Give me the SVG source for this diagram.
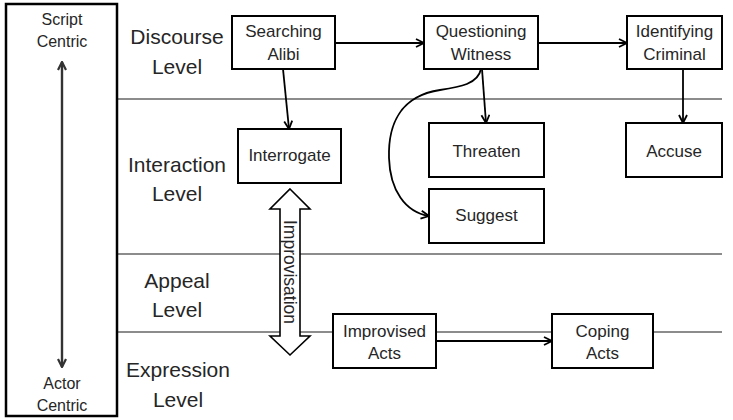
<svg xmlns="http://www.w3.org/2000/svg" width="733" height="420" viewBox="0 0 733 420">
<defs>
<style>
.box{fill:#fff;stroke:#000;stroke-width:2}
.lvl{stroke:#666;stroke-width:1.3;fill:none}
.t{font-family:"Liberation Sans",Arial,sans-serif;font-size:17px;fill:#262626;text-anchor:middle}
.lt{font-family:"Liberation Sans",Arial,sans-serif;font-size:21px;fill:#262626;text-anchor:middle}
.st{font-family:"Liberation Sans",Arial,sans-serif;font-size:16px;fill:#262626;text-anchor:middle}
.c{stroke:#000;stroke-width:1.8;fill:none}
</style>
<marker id="ah" viewBox="0 0 10 10" refX="9" refY="5" markerWidth="10" markerHeight="10" markerUnits="userSpaceOnUse" orient="auto-start-reverse">
<path d="M1,1 L9,5 L1,9" fill="none" stroke="#000" stroke-width="1.8"/>
</marker>
<marker id="ah2" viewBox="0 0 10 10" refX="9" refY="5" markerWidth="10" markerHeight="10" markerUnits="userSpaceOnUse" orient="auto-start-reverse">
<path d="M1,1 L9,5 L1,9" fill="none" stroke="#333" stroke-width="2.2"/>
</marker>
</defs>
<rect width="733" height="420" fill="#fff"/>
<g id="levels">
<line class="lvl" x1="118" y1="99" x2="722" y2="99"/>
<line class="lvl" x1="118" y1="254" x2="722" y2="254"/>
<line class="lvl" x1="118" y1="332" x2="722" y2="332"/>
<text class="lt" x="177" y="44">Discourse</text>
<text class="lt" x="177" y="74">Level</text>
<text class="lt" x="177" y="172">Interaction</text>
<text class="lt" x="177" y="201">Level</text>
<text class="lt" x="177" y="288">Appeal</text>
<text class="lt" x="177" y="317">Level</text>
<text class="lt" x="178" y="377">Expression</text>
<text class="lt" x="178" y="407">Level</text>
</g>
<g id="axis">
<rect x="6" y="4" width="111" height="412" fill="none" stroke="#000" stroke-width="2.5"/>
<text class="st" x="62" y="25">Script</text>
<text class="st" x="62" y="47">Centric</text>
<line x1="62" y1="62" x2="62" y2="367" stroke="#333" stroke-width="2.4" marker-start="url(#ah2)" marker-end="url(#ah2)"/>
<text class="st" x="62" y="389">Actor</text>
<text class="st" x="62" y="411">Centric</text>
</g>
<g id="connectors">
<line class="c" x1="335" y1="43" x2="424" y2="43" marker-end="url(#ah)"/>
<line class="c" x1="538" y1="43" x2="627" y2="43" marker-end="url(#ah)"/>
<line class="c" x1="283" y1="69" x2="289" y2="129" marker-end="url(#ah)"/>
<line class="c" x1="482" y1="69" x2="486" y2="123" marker-end="url(#ah)"/>
<line class="c" x1="683" y1="69" x2="683" y2="123" marker-end="url(#ah)"/>
<path class="c" d="M481,69 C478,84 460,87 440,90 C400,96 388,125 389,158 C390,190 405,212 429,216" marker-end="url(#ah)"/>
<line class="c" x1="436" y1="341" x2="552" y2="341" marker-end="url(#ah)"/>
</g>
<g id="improvisation">
<polygon points="290,189 310,209 300,209 300,336 310,336 290,355 270,336 280,336 280,209 270,209" fill="#fff" stroke="#000" stroke-width="1.6" stroke-linejoin="miter"/>
<text class="t" transform="translate(290,272) rotate(90)" x="0" y="6" style="font-size:17.5px">Improvisation</text>
</g>
<g id="searching-alibi">
<rect class="box" x="232" y="16" width="103" height="53"/>
<text class="t" x="283.5" y="37">Searching</text>
<text class="t" x="283.5" y="60">Alibi</text>
</g>
<g id="questioning-witness">
<rect class="box" x="424" y="16" width="114" height="53"/>
<text class="t" x="481" y="37">Questioning</text>
<text class="t" x="481" y="60">Witness</text>
</g>
<g id="identifying-criminal">
<rect class="box" x="627" y="16" width="95" height="53"/>
<text class="t" x="674.5" y="37">Identifying</text>
<text class="t" x="674.5" y="60">Criminal</text>
</g>
<g id="interrogate">
<rect class="box" x="238" y="129" width="103" height="54"/>
<text class="t" x="289.5" y="161">Interrogate</text>
</g>
<g id="threaten">
<rect class="box" x="429" y="123" width="115" height="54"/>
<text class="t" x="486.5" y="157">Threaten</text>
</g>
<g id="suggest">
<rect class="box" x="429" y="189" width="115" height="54"/>
<text class="t" x="486.5" y="221">Suggest</text>
</g>
<g id="accuse">
<rect class="box" x="626" y="123" width="96" height="54"/>
<text class="t" x="674" y="157">Accuse</text>
</g>
<g id="improvised-acts">
<rect class="box" x="333" y="314" width="103" height="54"/>
<text class="t" x="384.5" y="337">Improvised</text>
<text class="t" x="384.5" y="359">Acts</text>
</g>
<g id="coping-acts">
<rect class="box" x="552" y="314" width="101" height="54"/>
<text class="t" x="602.5" y="337">Coping</text>
<text class="t" x="602.5" y="359">Acts</text>
</g>
</svg>
